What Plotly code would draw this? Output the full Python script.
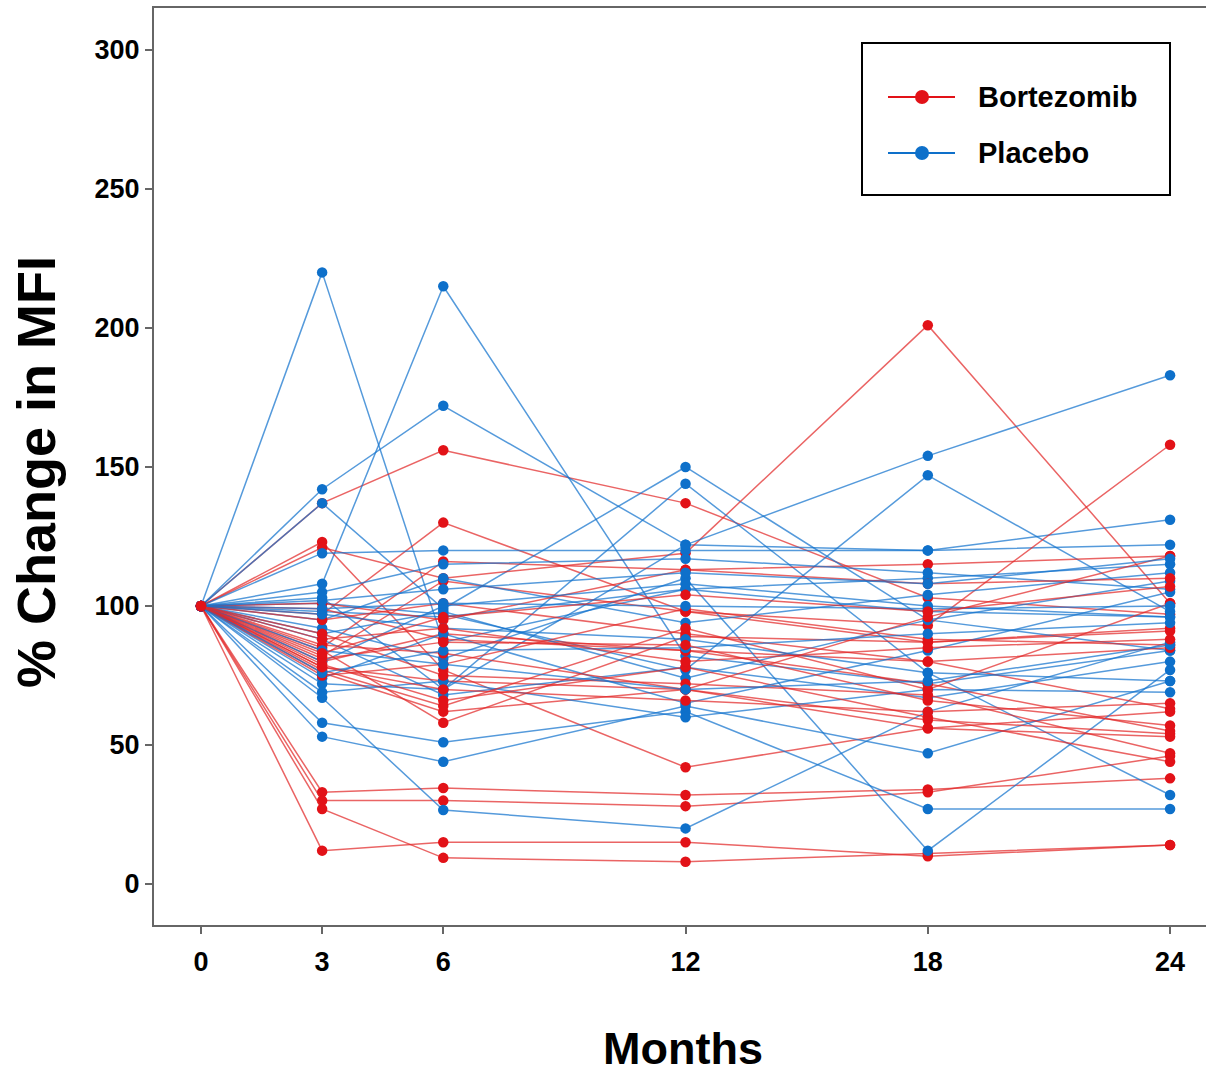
import plotly.graph_objects as go

# Visit months
months = [0, 3, 6, 12, 18, 24]

# % change in MFI per subject, Bortezomib arm
bortezomib = [
    [100, 137, 156, 137, 103, 97],
    [100, 97, 130, 98, 87, 92],
    [100, 123, 77, 42, 56, 62],
    [100, 121, 110, 119, 201, 101],
    [100, 33, 34.5, 32, 34, 38],
    [100, 30, 30, 28, 33, 46],
    [100, 27, 9.4, 8, 11, 14],
    [100, 12, 15, 15, 10, 14],
    [100, 85, 116, 113, 115, 118],
    [100, 82, 109, 98, 93, 158],
    [100, 80, 90, 84, 80, 85],
    [100, 78, 73, 70, 59, 54],
    [100, 76, 62, 70, 56, 53],
    [100, 84, 58, 89, 87, 91],
    [100, 95, 101, 90, 80, 63],
    [100, 99, 88, 84, 72, 55],
    [100, 90, 75, 72, 68, 47],
    [100, 101, 95, 113, 108, 110],
    [100, 79, 66, 78, 60, 44],
    [100, 77, 64, 92, 70, 101],
    [100, 75, 79, 99, 88, 86],
    [100, 86, 83, 70, 96, 118],
    [100, 81, 87, 86, 66, 57],
    [100, 83, 96, 104, 98, 107],
    [100, 78, 70, 66, 62, 65],
    [100, 88, 92, 80, 85, 88],
]

# % change in MFI per subject, Placebo arm
placebo = [
    [100, 220, 87, 106, 98, 96],
    [100, 108, 215, 82, 72, 84],
    [100, 142, 172, 122, 120, 131],
    [100, 137, 99, 150, 95, 84],
    [100, 119, 120, 120, 120, 122],
    [100, 103, 70, 144, 76, 32],
    [100, 72, 70, 122, 154, 183],
    [100, 101, 97, 77, 147, 98],
    [100, 58, 51, 62, 27, 27],
    [100, 53, 44, 64, 47, 73],
    [100, 67, 26.6, 20, 62, 87],
    [100, 92, 81, 110, 12, 77],
    [100, 98, 96, 106, 110, 115],
    [100, 95, 110, 94, 104, 112],
    [100, 90, 98, 74, 95, 109],
    [100, 88, 68, 78, 67, 80],
    [100, 69, 73, 60, 70, 69],
    [100, 105, 115, 117, 112, 106],
    [100, 80, 100, 108, 100, 96],
    [100, 74, 90, 65, 84, 105],
    [100, 97, 92, 88, 76, 73],
    [100, 99, 101, 100, 99, 100],
    [100, 76, 84, 85, 90, 94],
    [100, 84, 79, 70, 73, 86],
    [100, 102, 106, 112, 108, 117],
]

groups = ["Bortezomib", "Placebo"]
y_ticks = [0, 50, 100, 150, 200, 250, 300]

RED = "rgb(226,18,24)"
RED_LINE = "rgba(226,40,40,0.72)"
BLUE = "rgb(14,112,202)"
BLUE_LINE = "rgba(20,115,205,0.72)"

FONT = "Liberation Sans, Arial, sans-serif"

fig = go.Figure()


def add_subject(values, line_col, marker_col):
    fig.add_trace(go.Scatter(
        x=months, y=values, mode="lines+markers",
        line=dict(color=line_col, width=1.5),
        marker=dict(color=marker_col, size=10.5),
        showlegend=False, hoverinfo="skip",
    ))


# interleave the two arms so neither sits entirely on top
n = max(len(bortezomib), len(placebo))
for i in range(n):
    if i < len(placebo):
        add_subject(placebo[i], BLUE_LINE, BLUE)
    if i < len(bortezomib):
        add_subject(bortezomib[i], RED_LINE, RED)

# legend box drawn in pixel-anchored paper coordinates
W, H = 1206, 1075
L, R, T, B = 154, 0, 8, 150
pw, ph = W - L - R, H - T - B


def px(x):
    return (x - L) / pw


def py(y):
    return (H - B - y) / ph


shapes = [
    dict(type="rect", xref="paper", yref="paper",
         x0=px(862), x1=px(1170), y0=py(195), y1=py(43),
         line=dict(color="black", width=2), fillcolor="white", layer="above"),
]
annotations = []
for label, col, yy in [(groups[0], RED, 97), (groups[1], BLUE, 153)]:
    shapes.append(dict(type="line", xref="paper", yref="paper",
                       x0=px(888), x1=px(955), y0=py(yy), y1=py(yy),
                       line=dict(color=col, width=2), layer="above"))
    shapes.append(dict(type="circle", xref="paper", yref="paper",
                       xsizemode="pixel", ysizemode="pixel",
                       xanchor=px(922), yanchor=py(yy),
                       x0=-7, x1=7, y0=-7, y1=7,
                       line=dict(color=col, width=0), fillcolor=col, layer="above"))
    annotations.append(dict(xref="paper", yref="paper", x=px(976), y=py(yy),
                            xanchor="left", yanchor="middle", showarrow=False,
                            text="<b>%s</b>" % label,
                            font=dict(family=FONT, size=29, color="black")))

annotations.append(dict(xref="paper", yref="paper", x=px(36), y=py(472),
                        xanchor="center", yanchor="middle", showarrow=False,
                        textangle=-90, text="<b>% Change in MFI</b>",
                        font=dict(family=FONT, size=54, color="black")))
annotations.append(dict(xref="paper", yref="paper", x=px(683), y=py(1048),
                        xanchor="center", yanchor="middle", showarrow=False,
                        text="<b>Months</b>",
                        font=dict(family=FONT, size=45, color="black")))

tick_font = dict(family=FONT, size=27, color="black", weight="bold")

fig.update_layout(
    width=W, height=H,
    margin=dict(l=L, r=R, t=T, b=B),
    paper_bgcolor="white", plot_bgcolor="white",
    shapes=shapes, annotations=annotations,
    xaxis=dict(
        range=[-1.164, 24.89], tickvals=months, ticktext=[str(m) for m in months],
        showgrid=False, zeroline=False,
        showline=True, linecolor="#666666", linewidth=2, mirror=True,
        ticks="outside", ticklen=7, tickwidth=1.5, tickcolor="#666666",
        tickfont=tick_font, ticklabelstandoff=5,
    ),
    yaxis=dict(
        range=[-14.75, 315.1], tickvals=y_ticks, ticktext=[str(v) for v in y_ticks],
        showgrid=False, zeroline=False,
        showline=True, linecolor="#666666", linewidth=2,
        ticks="outside", ticklen=7, tickwidth=1.5, tickcolor="#666666",
        tickfont=tick_font,
    ),
)

fig.write_html("out.html")
